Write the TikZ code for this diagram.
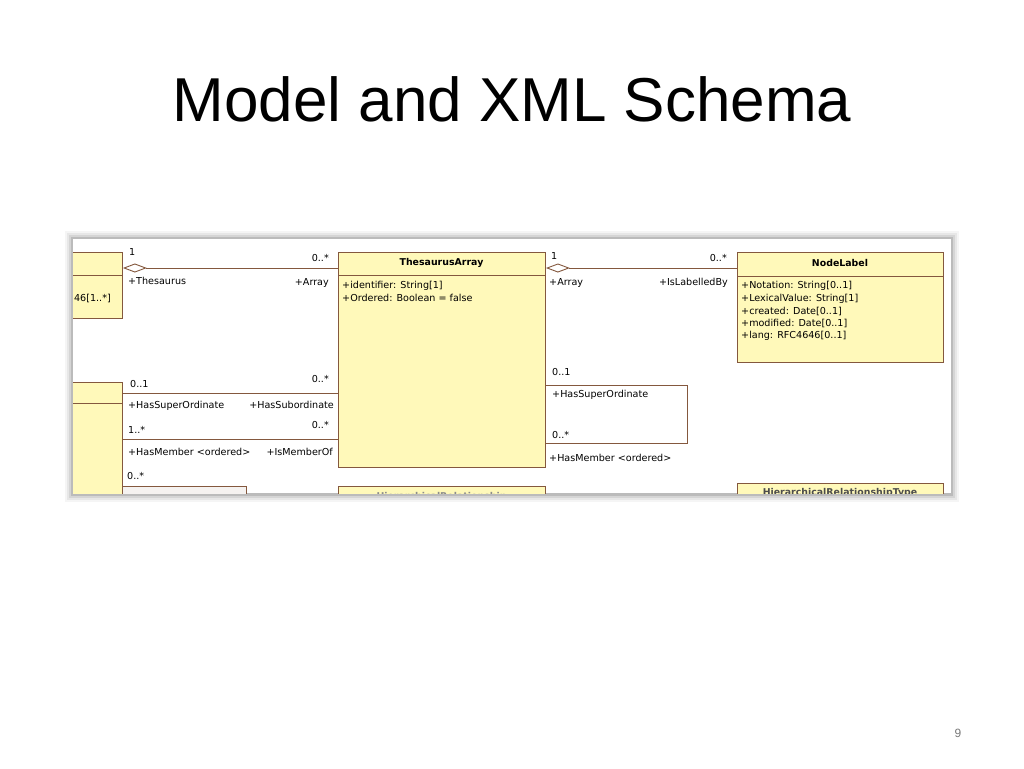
\documentclass[tikz,border=0pt]{standalone}
\usepackage{fontspec}
\setmainfont{Liberation Sans}
\newfontfamily\umlfont{DejaVu Sans}
\usetikzlibrary{arrows.meta}

\definecolor{umlfill}{RGB}{255,249,186}
\definecolor{umledge}{RGB}{132,88,62}
\definecolor{pagegray}{RGB}{120,120,120}

\tikzset{
  umlbox/.style={draw=umledge, fill=umlfill, line width=0.9pt, anchor=north west, inner sep=0pt},
  umlline/.style={draw=umledge, line width=0.9pt},
  umltitle/.style={font=\umlfont\fontsize{9.4}{11}\selectfont\bfseries, inner sep=0pt},
  umltext/.style={font=\umlfont\fontsize{9.6}{11}\selectfont, inner sep=0pt, anchor=west},
  umlrtext/.style={font=\umlfont\fontsize{9.6}{11}\selectfont, inner sep=0pt, anchor=east},
  aggr/.style={umlline, {Diamond[open,length=24pt,width=9pt]}-},
}

\begin{document}
\begin{tikzpicture}[x=1pt,y=-1pt]
\useasboundingbox (0,0) rectangle (1024,768);

% Slide title and page number
\node[anchor=base] (title) at (512,121) {\fontsize{62}{74}\selectfont Model and XML Schema};
\node[font=\fontsize{12}{14}\selectfont, text=pagegray] (pagenum) at (958,733) {9};

% Screenshot frame with soft shadow
\foreach \w/\o in {16/0.04, 12/0.06, 8/0.08, 4/0.12}
  \draw[line width=\w, black, opacity=\o] (73,239) rectangle (951,494);
\fill[white] (73,239) rectangle (951,493);

\begin{scope}
\clip (73,239) rectangle (951,493);

% Classes (top row)
\node[umlbox, minimum width=80, minimum height=66] (thesaurus) at (42,252) {};
\draw[umlline] (thesaurus.west |- 0,275) -- (thesaurus.east |- 0,275);
\node[umlrtext] (thesauruslang) at (111,298) {46[1..*]};

\node[umlbox, minimum width=207, minimum height=215] (tarr) at (338,252) {};
\draw[umlline] (tarr.west |- 0,275) -- (tarr.east |- 0,275);
\node[umltitle] (tarrname) at (441.5,263) {ThesaurusArray};
\node[umltext] (tarrid) at (342,286) {+identifier: String[1]};
\node[umltext] (tarrord) at (342,298) {+Ordered: Boolean = false};

\node[umlbox, minimum width=206, minimum height=110] (nlabel) at (737,252) {};
\draw[umlline] (nlabel.west |- 0,276) -- (nlabel.east |- 0,276);
\node[umltitle] (nlabelname) at (840,263) {NodeLabel};
\node[umltext] (nlnot) at (741,286) {+Notation: String[0..1]};
\node[umltext] (nllex) at (741,298.5) {+LexicalValue: String[1]};
\node[umltext] (nlcre) at (741,311) {+created: Date[0..1]};
\node[umltext] (nlmod) at (741,323.5) {+modified: Date[0..1]};
\node[umltext] (nllang) at (741,336) {+lang: RFC4646[0..1]};

% Classes (lower row, cut off)
\node[umlbox, minimum width=80, minimum height=140] (concept) at (42,382) {};
\draw[umlline] (concept.west |- 0,403) -- (concept.east |- 0,403);

\node[umlbox, fill=white!92!umledge, minimum width=124, minimum height=30] (member) at (122,486) {};
\node[umlbox, minimum width=207, minimum height=30] (hrel) at (338,486) {};
\node[umltitle, text=black!45] (hrelname) at (441.5,497) {HierarchicalRelationship};
\node[umlbox, minimum width=206, minimum height=30] (hrtype) at (737,483) {};
\node[umltitle, text=black!70] (hrtypename) at (840,493) {HierarchicalRelationshipType};

% Associations
\coordinate (a1s) at (thesaurus.east |- 0,268);
\coordinate (a1e) at (tarr.west |- 0,268);
\draw[aggr] (a1s) -- (a1e);
\node[umltext] (a1m1) at (129,252) {1};
\node[umltext] (a1r1) at (128,281) {+Thesaurus};
\node[umlrtext] (a1m2) at (329,258) {0..*};
\node[umlrtext] (a1r2) at (329,283) {+Array};

\coordinate (a2s) at (tarr.east |- 0,268);
\coordinate (a2e) at (nlabel.west |- 0,268);
\draw[aggr] (a2s) -- (a2e);
\node[umltext] (a2m1) at (551,256) {1};
\node[umltext] (a2r1) at (549,283) {+Array};
\node[umlrtext] (a2m2) at (727,258) {0..*};
\node[umlrtext] (a2r2) at (728,283) {+IsLabelledBy};

\coordinate (a3s) at (concept.east |- 0,393);
\coordinate (a3e) at (tarr.west |- 0,393);
\draw[umlline] (a3s) -- (a3e);
\node[umltext] (a3m1) at (130,384) {0..1};
\node[umltext] (a3r1) at (128,406) {+HasSuperOrdinate};
\node[umlrtext] (a3m2) at (329,379) {0..*};
\node[umlrtext] (a3r2) at (334,405) {+HasSubordinate};

\coordinate (a4s) at (concept.east |- 0,439);
\coordinate (a4e) at (tarr.west |- 0,439);
\draw[umlline] (a4s) -- (a4e);
\node[umltext] (a4m1) at (128,430) {1..*};
\node[umltext] (a4r1) at (128,452) {+HasMember <ordered>};
\node[umlrtext] (a4m2) at (329,425) {0..*};
\node[umlrtext] (a4r2) at (333,452) {+IsMemberOf};
\node[umltext] (a4m3) at (127,476) {0..*};

% Self association of ThesaurusArray
\coordinate (a5s) at (tarr.east |- 0,385);
\coordinate (a5e) at (tarr.east |- 0,443);
\draw[umlline] (a5s) -- (687,385) -- (687,443) -- (a5e);
\node[umltext] (a5m1) at (552,372) {0..1};
\node[umltext] (a5r1) at (552,395) {+HasSuperOrdinate};
\node[umltext] (a5m2) at (552,435) {0..*};
\node[umltext] (a5r2) at (549,458) {+HasMember <ordered>};
\end{scope}

\end{tikzpicture}
\end{document}
